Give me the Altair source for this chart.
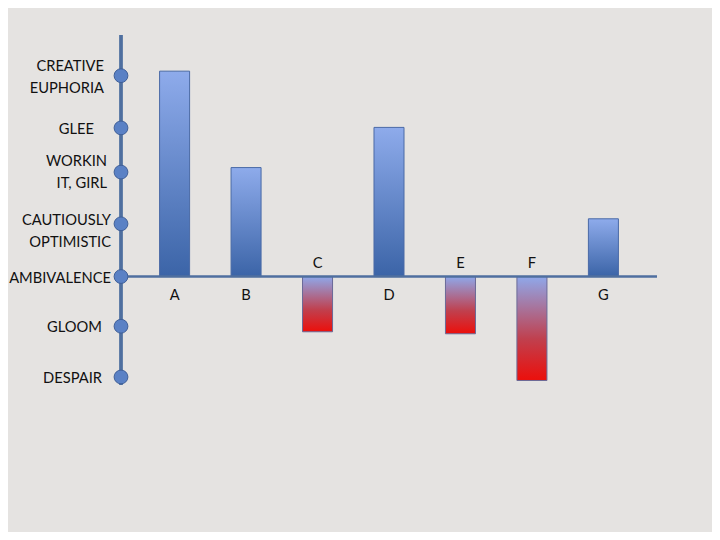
import altair as alt
import pandas as pd

# Bars
categories = ["A", "B", "C", "D", "E", "F", "G"]
values = [4.09, 2.17, -1.10, 2.97, -1.14, -2.07, 1.15]

# Mood scale (y levels)
level_labels = ["CREATIVE\nEUPHORIA", "GLEE", "WORKIN\nIT, GIRL", "CAUTIOUSLY\nOPTIMISTIC",
                "AMBIVALENCE", "GLOOM", "DESPAIR"]
level_values = [4.0, 2.96, 2.08, 1.05, 0.0, -0.99, -2.0]

# label placement style (x offset of right edge from axis, vertical nudge)
label_style = [(-17, -9), (-27, 2), (-14, -10), (-10, -3), (-10, 2), (-19, 2), (-19, 2)]

bars = pd.DataFrame({"cat": categories, "value": values})
levels = pd.DataFrame({"label": level_labels, "level": level_values})

W, H = 536, 350
FONT = "Lato"
FS = 14.7
BG = "#e5e3e1"
AXIS_COLOR = "#4f6f9f"
TXT = "#111111"

yscale = alt.Scale(domain=[-2.16, 4.81], nice=False, zero=False)
xscale = alt.Scale(domain=categories, paddingInner=0.58, paddingOuter=0.54)

pos_grad = {"gradient": "linear", "x1": 0, "x2": 0, "y1": 0, "y2": 1,
            "stops": [{"offset": 0, "color": "#8eabeb"},
                      {"offset": 1, "color": "#3b64a7"}]}
neg_grad = {"gradient": "linear", "x1": 0, "x2": 0, "y1": 0, "y2": 1,
            "stops": [{"offset": 0, "color": "#8fa8ea"},
                      {"offset": 0.6, "color": "#c0404e"},
                      {"offset": 1, "color": "#ec0f0b"}]}

base = alt.Chart(bars).transform_calculate(zero="0")
x_enc = alt.X("cat:N", scale=xscale, axis=None)
y_enc = alt.Y("value:Q", scale=yscale, axis=None)

pos_bars = base.transform_filter("datum.value >= 0").mark_bar(
    color=pos_grad, stroke="#4a6aa6", strokeWidth=1
).encode(x=x_enc, y=y_enc, y2="zero:Q")

neg_bars = base.transform_filter("datum.value < 0").mark_bar(
    color=neg_grad, stroke="#6a6a98", strokeWidth=1
).encode(x=x_enc, y=y_enc, y2="zero:Q")

pos_text = base.transform_filter("datum.value >= 0").mark_text(
    font=FONT, fontSize=FS, color=TXT, baseline="middle", dy=19
).encode(x=x_enc, y=alt.Y("zero:Q", scale=yscale, axis=None), text="cat:N")

neg_text = base.transform_filter("datum.value < 0").mark_text(
    font=FONT, fontSize=FS, color=TXT, baseline="middle", dy=-13
).encode(x=x_enc, y=alt.Y("zero:Q", scale=yscale, axis=None), text="cat:N")

lv = alt.Chart(levels)

vline = lv.mark_rule(color=AXIS_COLOR, strokeWidth=2.5).encode(
    x=alt.value(0), y=alt.value(0), y2=alt.value(H))
hline = lv.transform_filter("datum.level == 0").mark_rule(
    color=AXIS_COLOR, strokeWidth=2.5).encode(
    x=alt.value(0), x2=alt.value(W), y=alt.Y("level:Q", scale=yscale, axis=None))

dots = lv.mark_point(filled=True, shape="circle", size=190, color="#5a81c5",
                     stroke="#3f5f98", strokeWidth=1, opacity=1).encode(
    x=alt.value(0), y=alt.Y("level:Q", scale=yscale, axis=None))

label_layers = []
for v, (dx, dy) in zip(level_values, label_style):
    label_layers.append(
        lv.transform_filter(alt.FieldEqualPredicate(field="level", equal=v)).mark_text(
            font=FONT, fontSize=FS, color=TXT, align="right", baseline="middle",
            lineBreak="\n", lineHeight=22, dy=dy
        ).encode(x=alt.value(dx), y=alt.Y("level:Q", scale=yscale, axis=None),
                 text="label:N")
    )

chart = alt.layer(
    pos_bars, neg_bars, vline, hline, dots, pos_text, neg_text, *label_layers
).properties(
    width=W, height=H, background=BG,
    padding={"left": 113, "top": 27, "right": 55, "bottom": 147},
    autosize=alt.AutoSizeParams(type="none")
).configure_view(stroke=None)

chart.save("out.html", embed_options={"renderer": "svg", "actions": False})
